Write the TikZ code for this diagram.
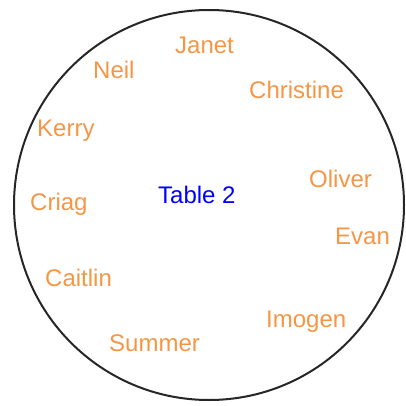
\documentclass[tikz,border=0pt]{standalone}
\usepackage{fontspec}
\setmainfont{Liberation Sans}
\definecolor{nameorange}{RGB}{245,150,70}
\begin{document}
\begin{tikzpicture}[x=1pt,y=-1pt,
  guest/.style={text=nameorange,font=\fontsize{24}{28}\selectfont,inner sep=0pt,anchor=base west},
  tbl/.style={text=blue,font=\fontsize{24}{28}\selectfont,inner sep=0pt,anchor=base west}]
\useasboundingbox (0,0) rectangle (406,406);
\draw[line width=2pt,black!85] (209,205) circle[radius=195];
\node[tbl] (t) at (158,203) {Table 2};
\node[guest] (janet) at (175,54) {Janet};
\node[guest] (neil) at (93,79) {Neil};
\node[guest] (christine) at (249,99) {Christine};
\node[guest] (kerry) at (37,137) {Kerry};
\node[guest] (oliver) at (309,187) {Oliver};
\node[guest] (criag) at (30,210) {Criag};
\node[guest] (evan) at (335,244) {Evan};
\node[guest] (caitlin) at (45,286) {Caitlin};
\node[guest] (imogen) at (266,327) {Imogen};
\node[guest] (summer) at (109,351) {Summer};
\end{tikzpicture}
\end{document}
